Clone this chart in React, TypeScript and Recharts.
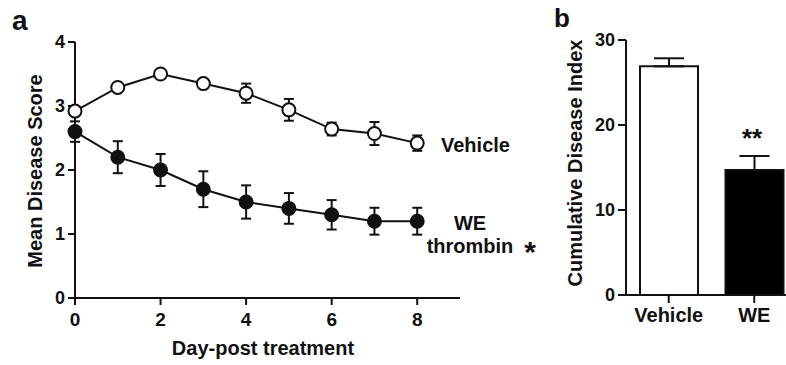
import React from 'react';
import { LineChart, Line, XAxis, YAxis, ErrorBar, BarChart, Bar } from 'recharts';

const days = [0, 1, 2, 3, 4, 5, 6, 7, 8];
const vehicleMean = [2.92, 3.29, 3.5, 3.35, 3.2, 2.94, 2.64, 2.57, 2.42];
const vehicleSem = [0.06, 0.05, 0.04, 0.05, 0.15, 0.17, 0.1, 0.18, 0.12];
const weMean = [2.6, 2.2, 2.0, 1.7, 1.5, 1.4, 1.3, 1.2, 1.2];
const weSem = [0.16, 0.25, 0.25, 0.28, 0.26, 0.24, 0.23, 0.21, 0.21];
const dayTicks = [0, 2, 4, 6, 8];
const scoreTicks = [0, 1, 2, 3, 4];

const groups = ['Vehicle', 'WE'];
const cdiMean = [26.9, 14.7];
const cdiSem = [0.95, 1.65];
const cdiTicks = [0, 10, 20, 30];

const lineData = days.map((d, i) => ({
  day: d,
  vehicle: vehicleMean[i],
  vehicleErr: vehicleSem[i],
  we: weMean[i],
  weErr: weSem[i],
}));

const barData = groups.map((g, i) => ({
  group: g,
  value: cdiMean[i],
  err: [0, cdiSem[i]],
  fill: i === 0 ? '#ffffff' : '#000000',
}));

const FONT = '"Liberation Sans", Arial, Helvetica, sans-serif';
const INK = '#111';

const tickStyleY = { fontFamily: FONT, fontSize: 18, fontWeight: 700, fill: INK };
const tickStyleX = { fontFamily: FONT, fontSize: 19, fontWeight: 700, fill: INK };
const axisLine = { stroke: INK, strokeWidth: 2 };
const tickLine = { stroke: INK, strokeWidth: 2 };

export default function App() {
  return (
    <div
      style={{
        position: 'absolute',
        left: 0,
        top: 0,
        width: 786,
        height: 365,
        overflow: 'hidden',
        background: '#fff',
      }}
    >
      <div style={{ position: 'absolute', left: 0, top: 0 }}>
        <LineChart
          width={480}
          height={365}
          data={lineData}
          margin={{ top: 42, right: 20, left: 0, bottom: 0 }}
        >
          <XAxis
            dataKey="day"
            type="number"
            domain={[0, 9]}
            ticks={dayTicks}
            height={67}
            tick={tickStyleX}
            tickSize={7}
            tickMargin={8}
            axisLine={axisLine}
            tickLine={tickLine}
          />
          <YAxis
            type="number"
            domain={[0, 4]}
            ticks={scoreTicks}
            width={75}
            tick={tickStyleY}
            tickSize={7}
            tickMargin={3}
            axisLine={axisLine}
            tickLine={tickLine}
          />
          <Line
            dataKey="vehicle"
            stroke={INK}
            strokeWidth={2}
            isAnimationActive={false}
            dot={{ r: 6.5, fill: '#fff', stroke: INK, strokeWidth: 2 }}
            activeDot={false}
          >
            <ErrorBar dataKey="vehicleErr" width={5} stroke={INK} strokeWidth={2} isAnimationActive={false} />
          </Line>
          <Line
            dataKey="we"
            stroke={INK}
            strokeWidth={2}
            isAnimationActive={false}
            dot={{ r: 6.5, fill: INK, stroke: INK, strokeWidth: 2 }}
            activeDot={false}
          >
            <ErrorBar dataKey="weErr" width={5} stroke={INK} strokeWidth={2} isAnimationActive={false} />
          </Line>
        </LineChart>
      </div>

      <div style={{ position: 'absolute', left: 540, top: 0 }}>
        <BarChart
          width={257}
          height={365}
          data={barData}
          margin={{ top: 40, right: 0, left: 0, bottom: 0 }}
          barSize={58}
        >
          <XAxis
            dataKey="group"
            height={70}
            tick={{ ...tickStyleX, fontSize: 20 }}
            tickSize={8}
            tickMargin={5}
            axisLine={axisLine}
            tickLine={tickLine}
            interval={0}
          />
          <YAxis
            type="number"
            domain={[0, 30]}
            ticks={cdiTicks}
            width={86}
            tick={tickStyleY}
            tickSize={8}
            tickMargin={3}
            axisLine={axisLine}
            tickLine={tickLine}
          />
          <Bar dataKey="value" stroke={INK} strokeWidth={2} isAnimationActive={false}>
            <ErrorBar dataKey="err" width={15} stroke={INK} strokeWidth={2} isAnimationActive={false} />
          </Bar>
        </BarChart>
      </div>

      <svg
        width={786}
        height={365}
        style={{ position: 'absolute', left: 0, top: 0, pointerEvents: 'none' }}
        fontFamily={FONT}
        fontWeight={700}
        fill={INK}
      >
        <text x={12} y={30} fontSize={28}>a</text>
        <text x={554} y={27} fontSize={26}>b</text>
        <text
          x={35}
          y={171}
          fontSize={20}
          textAnchor="middle"
          dominantBaseline="central"
          transform="rotate(-90 35 171)"
        >
          Mean Disease Score
        </text>
        <text x={263} y={355} fontSize={20} textAnchor="middle">Day-post treatment</text>
        <text
          x={575}
          y={163}
          fontSize={20}
          textAnchor="middle"
          dominantBaseline="central"
          transform="rotate(-90 575 163)"
        >
          Cumulative Disease Index
        </text>
        <text x={441} y={152} fontSize={20}>Vehicle</text>
        <text x={470} y={230} fontSize={20} textAnchor="middle">WE</text>
        <text x={470} y={253} fontSize={20} textAnchor="middle">thrombin</text>
        <text x={530} y={262} fontSize={30} textAnchor="middle">*</text>
        <text x={752} y={147} fontSize={26} textAnchor="middle">**</text>
      </svg>
    </div>
  );
}
